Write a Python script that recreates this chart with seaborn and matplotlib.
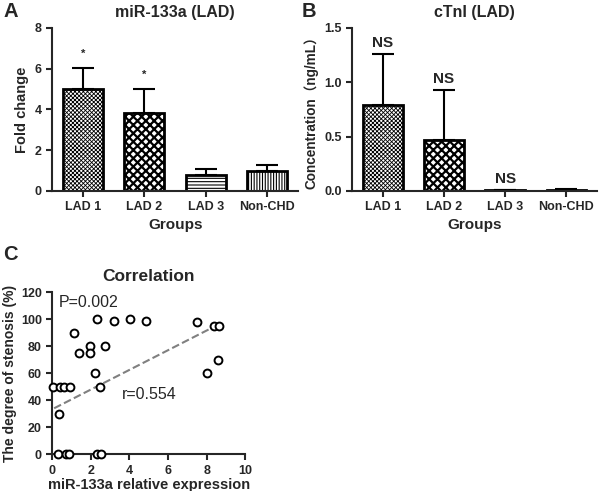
import numpy as np
import pandas as pd
import matplotlib
matplotlib.use("Agg")
import matplotlib.pyplot as plt
import seaborn as sns

# data
groups = ["LAD 1", "LAD 2", "LAD 3", "Non-CHD"]
mir_mean = [5.03, 3.84, 0.79, 0.98]
mir_sd = [1.02, 1.16, 0.27, 0.32]
mir_stars = ["*", "*", "", ""]

ctni_mean = [0.79, 0.47, 0.005, 0.01]
ctni_sd = [0.47, 0.46, 0.005, 0.01]
ctni_labels = ["NS", "NS", "NS", ""]

expr = [0.05, 0.4, 0.6, 0.9, 0.34, 0.3, 0.7, 0.85, 2.3, 2.5,
        1.15, 1.4, 1.95, 1.95, 2.2, 2.3, 2.45, 2.75, 3.2, 4.05,
        4.85, 7.5, 8.0, 8.35, 8.65, 8.6]
stenosis = [50, 50, 50, 50, 30, 0, 0, 0, 0, 0,
            90, 75, 80, 75, 60, 100, 50, 80, 99, 100,
            99, 98, 60, 95, 95, 70]
fit_x = [0.1, 8.6]
fit_y = [34, 96]

hatches = ["xxxxxxxx", "xxxx", "-----", "||||||"]
hatch_lw = [0.6, 1.6, 0.8, 0.8]

sns.set_style("ticks")
plt.rcParams["font.family"] = ["Liberation Sans", "Noto Sans CJK SC", "DejaVu Sans"]
plt.rcParams["font.weight"] = "bold"
plt.rcParams["hatch.linewidth"] = 0.8
plt.rcParams["axes.linewidth"] = 1.5
plt.rcParams["xtick.major.width"] = 1.5
plt.rcParams["ytick.major.width"] = 1.5
plt.rcParams["xtick.major.size"] = 4
plt.rcParams["ytick.major.size"] = 4

fig = plt.figure(figsize=(6, 4.91), dpi=100)
axA = fig.add_axes([0.087, 0.611, 0.41, 0.332])
axB = fig.add_axes([0.587, 0.611, 0.408, 0.332])
axC = fig.add_axes([0.087, 0.075, 0.322, 0.33])


def bar_panel(ax, means, sds, marks, title, ylabel, ylim, yticks, mark_off, mark_size, ylabel_size):
    df = pd.DataFrame({"group": groups, "value": means})
    sns.barplot(data=df, x="group", y="value", ax=ax, color="white",
                edgecolor="black", linewidth=2, width=0.65, errorbar=None)
    for patch, h, lw in zip(ax.patches, hatches, hatch_lw):
        patch.set_hatch(h)
        if hasattr(patch, "set_hatch_linewidth"):
            patch.set_hatch_linewidth(lw)
    x = np.arange(len(groups))
    ax.errorbar(x, means, yerr=[np.zeros(len(sds)), sds], fmt="none",
                ecolor="black", elinewidth=1.5, capsize=8, capthick=1.5)
    for xi, m, s, t in zip(x, means, sds, marks):
        if t:
            ax.text(xi, m + s + mark_off, t, ha="center", va="bottom",
                    fontsize=mark_size, fontweight="bold")
    ax.set_ylim(*ylim)
    ax.set_yticks(yticks)
    ax.set_xlim(-0.5, 3.5)
    ax.set_title(title, fontsize=11.5, fontweight="bold", pad=8)
    ax.set_ylabel(ylabel, fontsize=ylabel_size, fontweight="bold")
    ax.set_xlabel("Groups", fontsize=11, fontweight="bold", labelpad=3)
    ax.tick_params(labelsize=9)
    sns.despine(ax=ax)


bar_panel(axA, mir_mean, mir_sd, mir_stars, "miR-133a (LAD)", "Fold change",
          (0, 8), [0, 2, 4, 6, 8], 0.45, 8, 10.5)
axA.set_yticklabels(["0", "2", "4", "6", "8"])
bar_panel(axB, ctni_mean, ctni_sd, ctni_labels, "cTnI (LAD)", "Concentration（ng/mL）",
          (0, 1.5), [0, 0.5, 1.0, 1.5], 0.04, 11, 9.8)
axB.set_yticklabels(["0.0", "0.5", "1.0", "1.5"])

# scatter panel
sc = pd.DataFrame({"expr": expr, "stenosis": stenosis})
sns.scatterplot(data=sc, x="expr", y="stenosis", ax=axC, s=32,
                facecolor="white", edgecolor="black", linewidth=1.4, clip_on=False, zorder=3)
axC.plot(fit_x, fit_y, color="grey", linestyle="--", linewidth=1.5, zorder=2)
axC.set_xlim(0, 10)
axC.set_ylim(0, 120)
axC.set_xticks([0, 2, 4, 6, 8, 10])
axC.set_yticks([0, 20, 40, 60, 80, 100, 120])
axC.set_title("Correlation", fontsize=12.5, fontweight="bold", pad=8)
axC.set_xlabel("miR-133a relative expression", fontsize=10.5, fontweight="bold", labelpad=1)
axC.set_ylabel("The degree of stenosis (%)", fontsize=10, fontweight="bold", labelpad=3)
axC.tick_params(labelsize=9)
axC.text(0.35, 118, "P=0.002", fontsize=11.5, fontweight="normal", va="top")
axC.text(3.6, 44, "r=0.554", fontsize=11.5, fontweight="normal", va="center")
sns.despine(ax=axC)

for letter, (lx, ly) in zip("ABC", [(0.006, 0.995), (0.503, 0.995), (0.006, 0.5)]):
    fig.text(lx, ly, letter, fontsize=14.5, fontweight="bold", va="top", ha="left")

fig.savefig("out.png", dpi=100)
